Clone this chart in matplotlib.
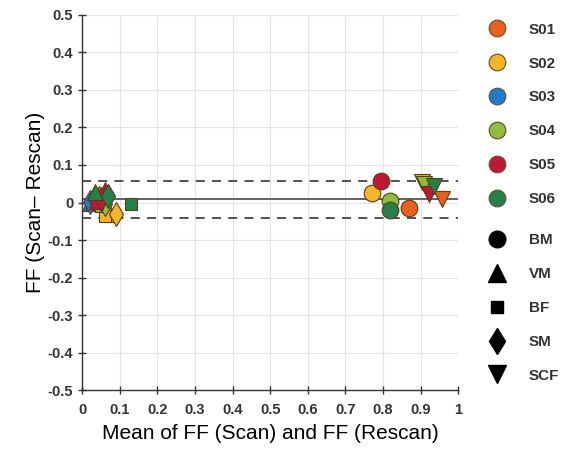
import numpy as np
import matplotlib.pyplot as plt
from matplotlib.lines import Line2D

plt.rcParams['font.family'] = ['Liberation Sans', 'DejaVu Sans']

subjects = ['S01', 'S02', 'S03', 'S04', 'S05', 'S06']
subject_colors = ['#E8621E', '#F3B62A', '#1F7BC9', '#8DBF3A', '#BF1738', '#25804A']
methods = ['BM', 'VM', 'BF', 'SM', 'SCF']
method_markers = ['o', '^', 's', 'd', 'v']

# (subject, method, mean FF, difference)
pt_subject = ['S03', 'S03', 'S03',
              'S01', 'S01', 'S01', 'S01', 'S01',
              'S02', 'S02', 'S02', 'S02', 'S02',
              'S04', 'S04', 'S04', 'S04', 'S04',
              'S05', 'S05', 'S05', 'S05', 'S05',
              'S06', 'S06', 'S06', 'S06', 'S06']
pt_method = ['VM', 'BF', 'SM',
             'BM', 'VM', 'BF', 'SM', 'SCF',
             'BM', 'VM', 'BF', 'SM', 'SCF',
             'BM', 'VM', 'BF', 'SM', 'SCF',
             'BM', 'VM', 'BF', 'SM', 'SCF',
             'BM', 'VM', 'BF', 'SM', 'SCF']
pt_mean = [0.020, 0.025, 0.022,
           0.868, 0.040, 0.050, 0.035, 0.957,
           0.770, 0.075, 0.060, 0.090, 0.905,
           0.820, 0.045, 0.050, 0.060, 0.910,
           0.795, 0.060, 0.040, 0.050, 0.922,
           0.820, 0.035, 0.130, 0.068, 0.935]
pt_diff = [-0.002, -0.006, 0.002,
           -0.015, 0.005, 0.000, 0.010, 0.010,
           0.025, -0.030, -0.036, -0.030, 0.055,
           0.005, 0.022, -0.010, -0.005, 0.048,
           0.058, 0.032, 0.000, 0.010, 0.022,
           -0.020, 0.028, -0.005, 0.018, 0.045]

bias = 0.008
loa_upper = 0.056
loa_lower = -0.040

fig = plt.figure(figsize=(5.67, 4.5), dpi=100)
ax = fig.add_axes([0.145, 0.133, 0.663, 0.834])

ax.set_xlim(0, 1)
ax.set_ylim(-0.5, 0.5)
ax.set_xticks(np.arange(0, 1.01, 0.1))
ax.set_yticks(np.arange(-0.5, 0.51, 0.1))
ax.set_xticklabels(['0', '0.1', '0.2', '0.3', '0.4', '0.5', '0.6', '0.7', '0.8', '0.9', '1'])
ax.set_yticklabels(['-0.5', '-0.4', '-0.3', '-0.2', '-0.1', '0', '0.1', '0.2', '0.3', '0.4', '0.5'])
ax.grid(True, color='#e4e4e4', lw=0.8)
ax.set_axisbelow(True)
for s in ['top', 'right']:
    ax.spines[s].set_visible(False)
for s in ['left', 'bottom']:
    ax.spines[s].set_color('#333333')
    ax.spines[s].set_linewidth(1.0)
ax.tick_params(direction='inout', length=6, width=1, color='#333333',
               labelsize=10.5, labelcolor='#333333')
ax.tick_params(axis='x', pad=6)
for lab in ax.get_xticklabels() + ax.get_yticklabels():
    lab.set_fontweight('bold')

ax.axhline(bias, color='#555555', lw=1.3, zorder=1)
ax.axhline(loa_upper, color='#444444', lw=1.3, ls=(0, (5, 4)), zorder=1)
ax.axhline(loa_lower, color='#444444', lw=1.3, ls=(0, (5, 4)), zorder=1)

for s, m, x, y in zip(pt_subject, pt_method, pt_mean, pt_diff):
    c = subject_colors[subjects.index(s)]
    mk = method_markers[methods.index(m)]
    ms = {'o': 12, 's': 9, 'd': 12, '^': 11, 'v': 11}[mk]
    ax.plot(x, y, marker=mk, ms=ms, color=c, mec='#5a3a1a', mew=0.8,
            ls='none', zorder=3)

ax.set_xlabel('Mean of FF (Scan) and FF (Rescan)', fontsize=15, labelpad=5)
ax.set_ylabel('FF (Scan\u2013 Rescan)', fontsize=15, labelpad=2)

subj_handles = [Line2D([], [], marker='o', ls='none', ms=12, color=c,
                       mec='#6b4a2a', mew=0.8, label=s)
                for s, c in zip(subjects, subject_colors)]
meth_sizes = [12, 13, 8.5, 13, 13]
meth_handles = [Line2D([], [], marker=mk, ls='none', ms=sz, color='black', label=m)
                for m, mk, sz in zip(methods, method_markers, meth_sizes)]

leg_kw = dict(loc='upper left', frameon=False, labelspacing=1.3, handletextpad=1.1,
              prop={'weight': 'bold', 'size': 11}, borderaxespad=0)
leg1 = fig.legend(handles=subj_handles, bbox_to_anchor=(0.838, 0.963), **leg_kw)
leg2 = fig.legend(handles=meth_handles, bbox_to_anchor=(0.838, 0.495), **leg_kw)
for lg in (leg1, leg2):
    for t in lg.get_texts():
        t.set_color('#333333')

fig.savefig('out.png', dpi=100)
